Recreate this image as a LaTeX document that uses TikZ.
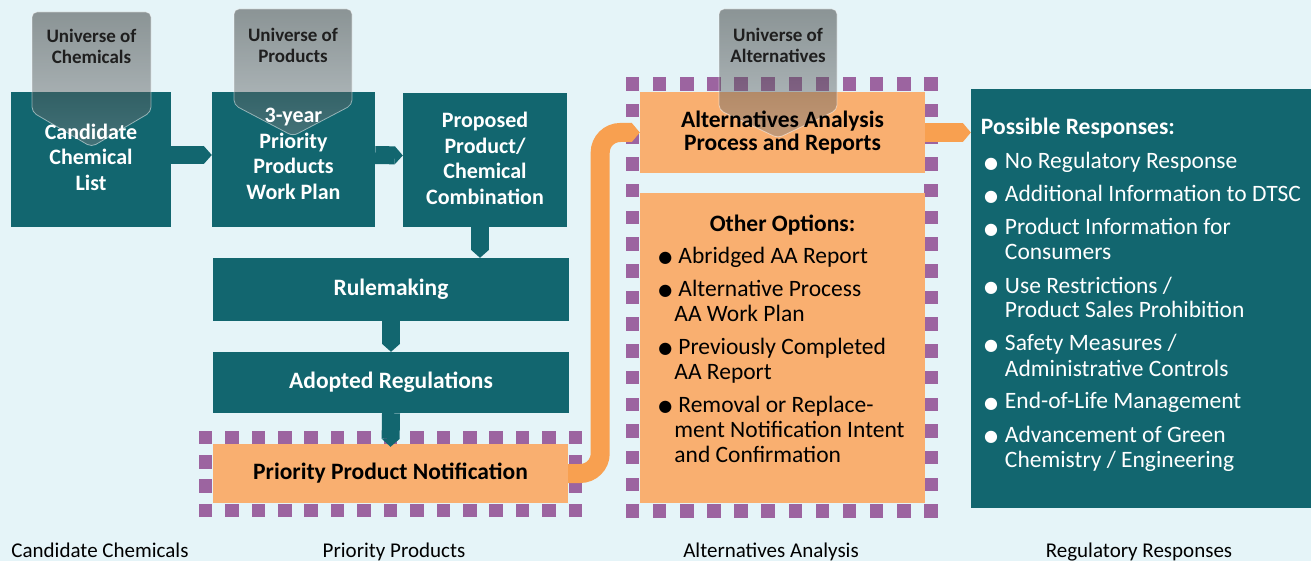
\documentclass[tikz,border=0pt]{standalone}
\usepackage{fontspec}
\setmainfont{Carlito}
\newfontfamily\dejavu{DejaVu Sans}
\usetikzlibrary{arrows.meta}

\definecolor{bgblue}{RGB}{229,244,248}
\definecolor{tealbox}{RGB}{18,102,111}
\definecolor{orbox}{RGB}{249,175,112}
\definecolor{orline}{RGB}{248,160,80}
\definecolor{purp}{RGB}{156,100,160}
\definecolor{tagtop}{RGB}{30,32,30}
\definecolor{tagbot}{RGB}{130,130,132}

\pgfdeclarelayer{back}
\pgfdeclarelayer{tags}
\pgfsetlayers{back,tags,main}

\newcommand{\bul}{\makebox[10pt][c]{\raisebox{0.5pt}{\dejavu\fontsize{16}{16}\selectfont ●}}}

% purple square border: x1 y1 x2 y2 (centre line), gaps along x, gaps along y
\newcommand{\dotframe}[6]{%
  \foreach \i in {0,...,#5}{
    \fill[purp] ({#1+\i*(#3-#1)/#5-6.75},{#2-6.75}) rectangle ++(13.5,13.5);
    \fill[purp] ({#1+\i*(#3-#1)/#5-6.75},{#4-6.75}) rectangle ++(13.5,13.5);
  }
  \foreach \j in {0,...,#6}{
    \fill[purp] ({#1-6.75},{#2+\j*(#4-#2)/#6-6.75}) rectangle ++(13.5,13.5);
    \fill[purp] ({#3-6.75},{#2+\j*(#4-#2)/#6-6.75}) rectangle ++(13.5,13.5);
  }}

% grey tag: x1 x2 top side-end tip
\newcommand{\tagshape}[5]{%
  \shade[tagfill,rounded corners=5] (#1,#4) -- (#1,#3) -- (#2,#3) -- (#2,#4) -- ({(#1+#2)/2},#5) -- cycle;
  \draw[white,draw opacity=0.5,line width=0.8,rounded corners=5] (#1,#4) -- (#1,#3) -- (#2,#3) -- (#2,#4) -- ({(#1+#2)/2},#5) -- cycle;}

\tikzset{
  box/.style={inner sep=0pt, align=center, font=\bfseries\fontsize{23.5}{23}\selectfont},
  topbox/.style={box, text=white, font=\bfseries\fontsize{22}{25.5}\selectfont},
  list/.style={inner sep=0pt, font=\fontsize{23.5}{25}\selectfont},
  tealflow/.style={draw=tealbox, line width=18pt, -{Triangle[width=18pt,length=8pt,line width=0pt]}},
  orflow/.style={draw=orline, line width=19pt, -{Triangle[width=19pt,length=8pt,line width=0pt]}},
  tagfill/.style={top color=tagtop, bottom color=tagbot, fill opacity=0.45},
  tagtext/.style={align=center, text=black!88, font=\bfseries\fontsize{19}{21}\selectfont},
  caption/.style={anchor=base, font=\fontsize{21}{25}\selectfont}
}

\begin{document}
\begin{tikzpicture}[x=1pt,y=-1pt]
\useasboundingbox (0,0) rectangle (1311,561);

% box texts
\node[topbox,text depth=5pt,minimum width=160,minimum height=135] (cand) at (91,159.5) {Candidate\\Chemical\\List};
\node[topbox,text depth=11pt,minimum width=163,minimum height=135] (plan) at (293.5,159.5) {3-year\\Priority\\Products\\Work Plan};
\node[topbox,text depth=3pt,minimum width=164,minimum height=134] (prop) at (485,160) {Proposed\\Product/\\Chemical\\Combination};
\node[box,text=white,minimum width=356,minimum height=63] (rule) at (391,289.5) {Rulemaking};
\node[box,text=white,minimum width=356,minimum height=61] (adopt) at (391,382.5) {Adopted Regulations};
\node[box,minimum width=355,minimum height=59] (ppn) at (390.5,473.5) {Priority Product Notification};
\node[box,minimum width=285,minimum height=81] (aa) at (782.5,132.5) {Alternatives Analysis\\Process and Reports};

\node[list,minimum width=285,minimum height=310] (opts) at (782.5,348) {%
\begin{tabular}{@{}l@{\hspace{8pt}}l@{}}
\multicolumn{2}{@{}c@{}}{\bfseries Other Options:}\\[7pt]
\bul & Abridged AA Report\\[8pt]
\bul & Alternative Process\\
 & \hspace{-4pt}AA Work Plan\\[8pt]
\bul & Previously Completed\\
 & \hspace{-4pt}AA Report\\[8pt]
\bul & Removal or Replace-\\
 & \hspace{-4pt}ment Notification Intent\\
 & \hspace{-4pt}and Confirmation\\[13pt]
\end{tabular}};

\node[list,text=white,minimum width=340,minimum height=419] (resp) at (1141,298.5) {%
\begin{tabular}{@{\hspace{5pt}}l@{\hspace{9pt}}l@{}}
\multicolumn{2}{@{}l@{}}{\bfseries Possible Responses:}\\[9pt]
\bul & No Regulatory Response\\[8pt]
\bul & Additional Information to DTSC\\[8pt]
\bul & Product Information for\\
 & Consumers\\[8pt]
\bul & Use Restrictions /\\
 & Product Sales Prohibition\\[8pt]
\bul & Safety Measures /\\
 & Administrative Controls\\[8pt]
\bul & End-of-Life Management\\[8pt]
\bul & Advancement of Green\\
 & Chemistry / Engineering\\[5pt]
\end{tabular}};

% tags
\node[tagtext] (tagchem) at (91.5,46) {Universe of\\Chemicals};
\node[tagtext] (tagprod) at (293,45.5) {Universe of\\Products};
\node[tagtext] (tagalt) at (778,45.5) {Universe of\\Alternatives};

% captions
\node[caption] (capchem) at (100,557) {Candidate Chemicals};
\node[caption] (capprod) at (394,557) {Priority Products};
\node[caption] (capalt) at (771,557) {Alternatives Analysis};
\node[caption] (capresp) at (1139,557) {Regulatory Responses};

\begin{pgfonlayer}{back}
  \fill[bgblue] (0,0) rectangle (1311,561);

  \dotframe{205.5}{437.5}{575.5}{510.5}{14}{3}
  \dotframe{632.5}{84}{931}{511}{11}{16}

  \foreach \n in {cand,plan,prop,rule,adopt,resp}
    \fill[tealbox] (\n.south west) rectangle (\n.north east);
  \foreach \n in {ppn,aa,opts}
    \fill[orbox] (\n.south west) rectangle (\n.north east);

  \draw[tealflow] ([yshift=4.5pt]cand.east) -- ([yshift=4.5pt]plan.west);
  \draw[tealflow] ([yshift=4.5pt]plan.east) -- ([yshift=4.5pt]prop.west);
  \draw[tealflow] ([xshift=-5pt]prop.south) -- ([xshift=-5pt]prop.south |- rule.north);
  \draw[tealflow] (rule.south) -- (adopt.north);
  \draw[tealflow] (adopt.south) -- ([yshift=-3pt]ppn.north);

  \draw[orflow,rounded corners=20] (ppn.east) -- ++(32,0) |- (aa.west);
  \draw[orflow] (aa.east) -- (aa.east -| resp.west);
\end{pgfonlayer}

\begin{pgfonlayer}{tags}
  \tagshape{32}{151}{12}{112}{147}
  \tagshape{234}{352}{9}{105}{136}
  \tagshape{719}{837}{9}{110}{138}
\end{pgfonlayer}
\end{tikzpicture}
\end{document}
